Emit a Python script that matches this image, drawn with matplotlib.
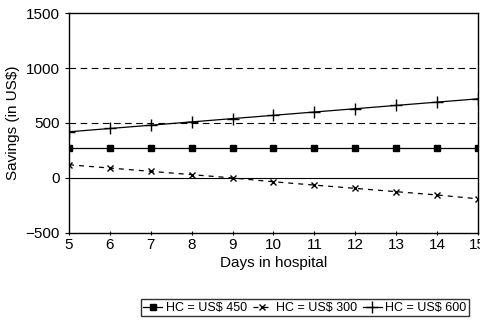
import matplotlib.pyplot as plt

plt.rcParams['font.family'] = ['Liberation Sans', 'DejaVu Sans']

days = [5, 6, 7, 8, 9, 10, 11, 12, 13, 14, 15]
hc450 = [270, 270, 270, 270, 270, 270, 270, 270, 270, 270, 270]
hc300 = [120, 90, 60, 30, 0, -35, -65, -95, -125, -155, -190]
hc600 = [420, 450, 480, 510, 540, 570, 600, 630, 660, 690, 720]

fig = plt.figure(figsize=(4.81, 3.28), dpi=100)
ax = fig.add_axes([0.1435, 0.29, 0.85, 0.67])

for yv in [500, 1000]:
    ax.axhline(yv, color='black', lw=0.8, ls=(0, (6, 4)), zorder=1)
ax.axhline(0, color='black', lw=0.8, zorder=1)

ax.plot(days, hc450, color='black', lw=0.9, marker='s', ms=5, label='HC = US$ 450')
ax.plot(days, hc300, color='black', lw=0.9, ls=(0, (4, 4)), marker='x', ms=4, label='HC = US$ 300')
ax.plot(days, hc600, color='black', lw=0.9, marker='+', ms=8, label='HC = US$ 600')

ax.set_xlim(5, 15)
ax.set_ylim(-500, 1500)
ax.set_xticks(days)
ax.set_yticks([-500, 0, 500, 1000, 1500])
ax.tick_params(axis='both', labelsize=11, length=3, width=0.8, color='black')
ax.tick_params(axis='x', direction='inout', pad=2)
for s in ax.spines.values():
    s.set_linewidth(1.0)

ax.set_xlabel('Days in hospital', fontsize=11, labelpad=3)
ax.set_ylabel('Savings (in US$)', fontsize=11, labelpad=4)

fig.legend(loc='center', bbox_to_anchor=(0.634, 0.061), ncol=3, fontsize=9,
           frameon=True, fancybox=False, edgecolor='black', handlelength=1.5,
           handletextpad=0.3, columnspacing=0.5, borderpad=0.2)

fig.savefig('out.png', dpi=100)
